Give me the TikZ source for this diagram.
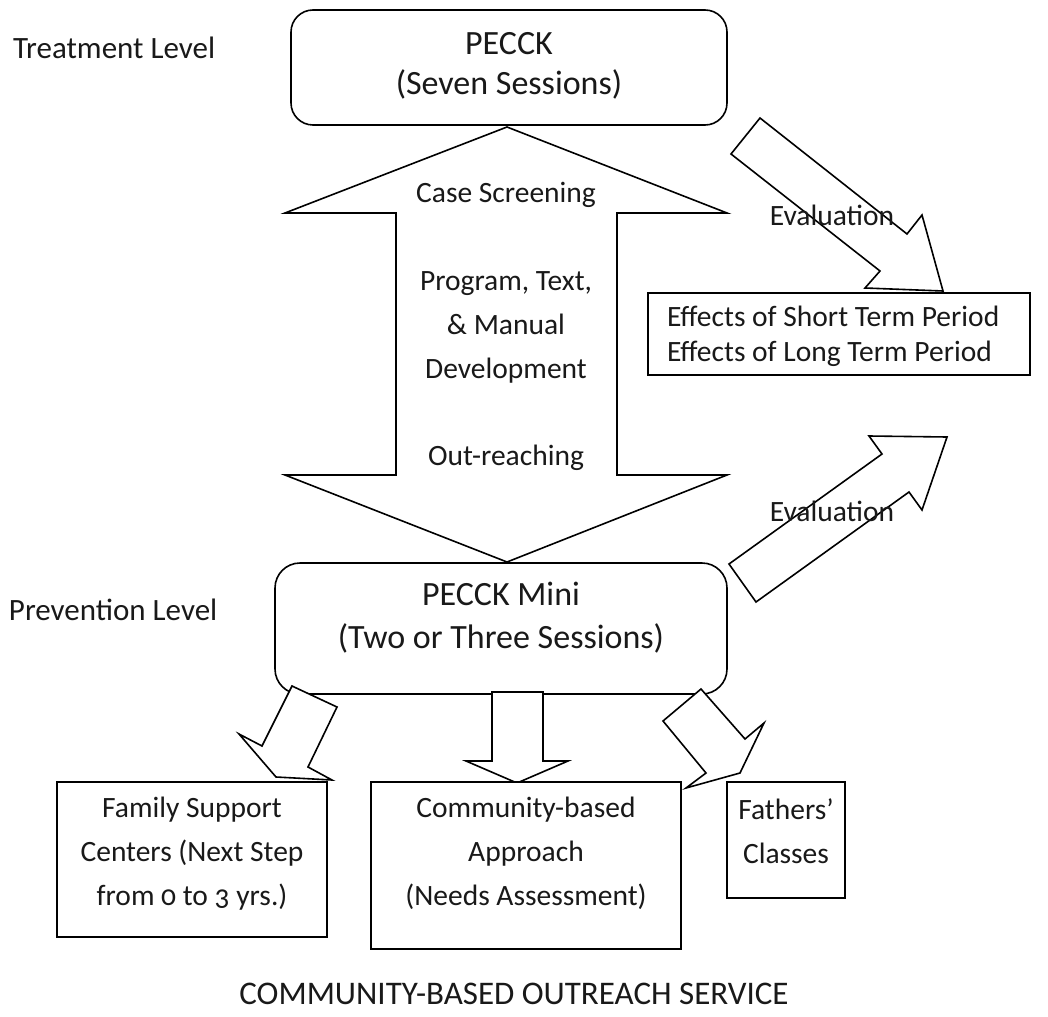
\documentclass[tikz,border=0pt]{standalone}
\usepackage{fontspec}
\setmainfont{Carlito}[Numbers=OldStyle]
\begin{document}
\begin{tikzpicture}[x=1pt,y=-1pt,
  line width=1.6pt,
  every node/.style={inner sep=0pt,outer sep=0pt,text=black!90},
  rbox/.style={draw,fill=white,rounded corners=22pt},
  sbox/.style={draw,fill=white},
  barrow/.style={draw,fill=white,line join=miter},
  body/.style={font=\fontsize{29.5}{44}\selectfont,align=center},
  title/.style={font=\fontsize{34}{40}\selectfont,align=center},
]
\useasboundingbox (0,0) rectangle (1048,1016);

% labels
\node[body,font=\fontsize{31}{36}\selectfont,anchor=west] (treat) at (13,48) {Treatment Level};
\node[body,font=\fontsize{31}{36}\selectfont,anchor=west] (prev) at (9,610) {Prevention Level};

% double arrow
\draw[barrow] (507,127) -- (727,213) -- (617,213) -- (617,475) -- (727,475) -- (507,562)
  -- (285,475) -- (396,475) -- (396,213) -- (285,213) -- cycle;
\node[body] (case) at (506,195) {Case Screening};
\node[body] (prog) at (506,327) {Program, Text,\\ \& Manual\\ Development};
\node[body] (out) at (506,458) {Out-reaching};

% top box
\draw[rbox] (291,10) rectangle (727,125);
\node[title] (peck) at (509,66) {PECCK\\(Seven Sessions)};

% effects box
\node[sbox,minimum width=382pt,minimum height=82pt,anchor=north west] (eff) at (648,293) {};
\node[font=\fontsize{29.5}{35}\selectfont,align=left,anchor=west] (efft) at (667,336)
  {Effects of Short Term Period\\Effects of Long Term Period};

% evaluation arrows
\draw[barrow] (760,118) -- (907,234) -- (922,215) -- (943,291) -- (865,288) -- (880,271) -- (731,154) -- cycle;
\node[body] (ev1) at (832,215) {Evaluation};
\draw[barrow] (756,602) -- (729,564) -- (882,454) -- (869,436) -- (947,437) -- (922,510) -- (909,492) -- cycle;
\node[body] (ev2) at (832,511) {Evaluation};

% mini box
\draw[rbox,rounded corners=25pt] (275,563) rectangle (727,694);
\node[font=\fontsize{34}{43}\selectfont,align=center] (mini) at (501,618) {PECCK Mini\\(Two or Three Sessions)};

% bottom arrows
\draw[barrow] (292,686) -- (337,707) -- (308,767) -- (332,780) -- (276,777) -- (239,734) -- (262,746) -- cycle;
\draw[barrow] (492,692) -- (543,692) -- (543,761) -- (568,761) -- (517,783) -- (466,761) -- (492,761) -- cycle;
\draw[barrow] (701,689) -- (745,739) -- (764,723) -- (740,773) -- (686,788) -- (706,773) -- (663,721) -- cycle;

% bottom boxes
\draw[sbox] (57,782) rectangle (327,937);
\node[body] (fam) at (192,854) {Family Support\\Centers (Next Step\\from 0 to 3 yrs.)};
\draw[sbox] (371,782) rectangle (681,949);
\node[body] (comm) at (526,853) {Community-based\\Approach\\(Needs Assessment)};
\draw[sbox] (727,782) rectangle (845,898);
\node[body] (fath) at (786,831) {Fathers’\\Classes};

\node[font=\fontsize{33}{40}\selectfont] (foot) at (514,994) {COMMUNITY-BASED OUTREACH SERVICE};
\end{tikzpicture}
\end{document}
